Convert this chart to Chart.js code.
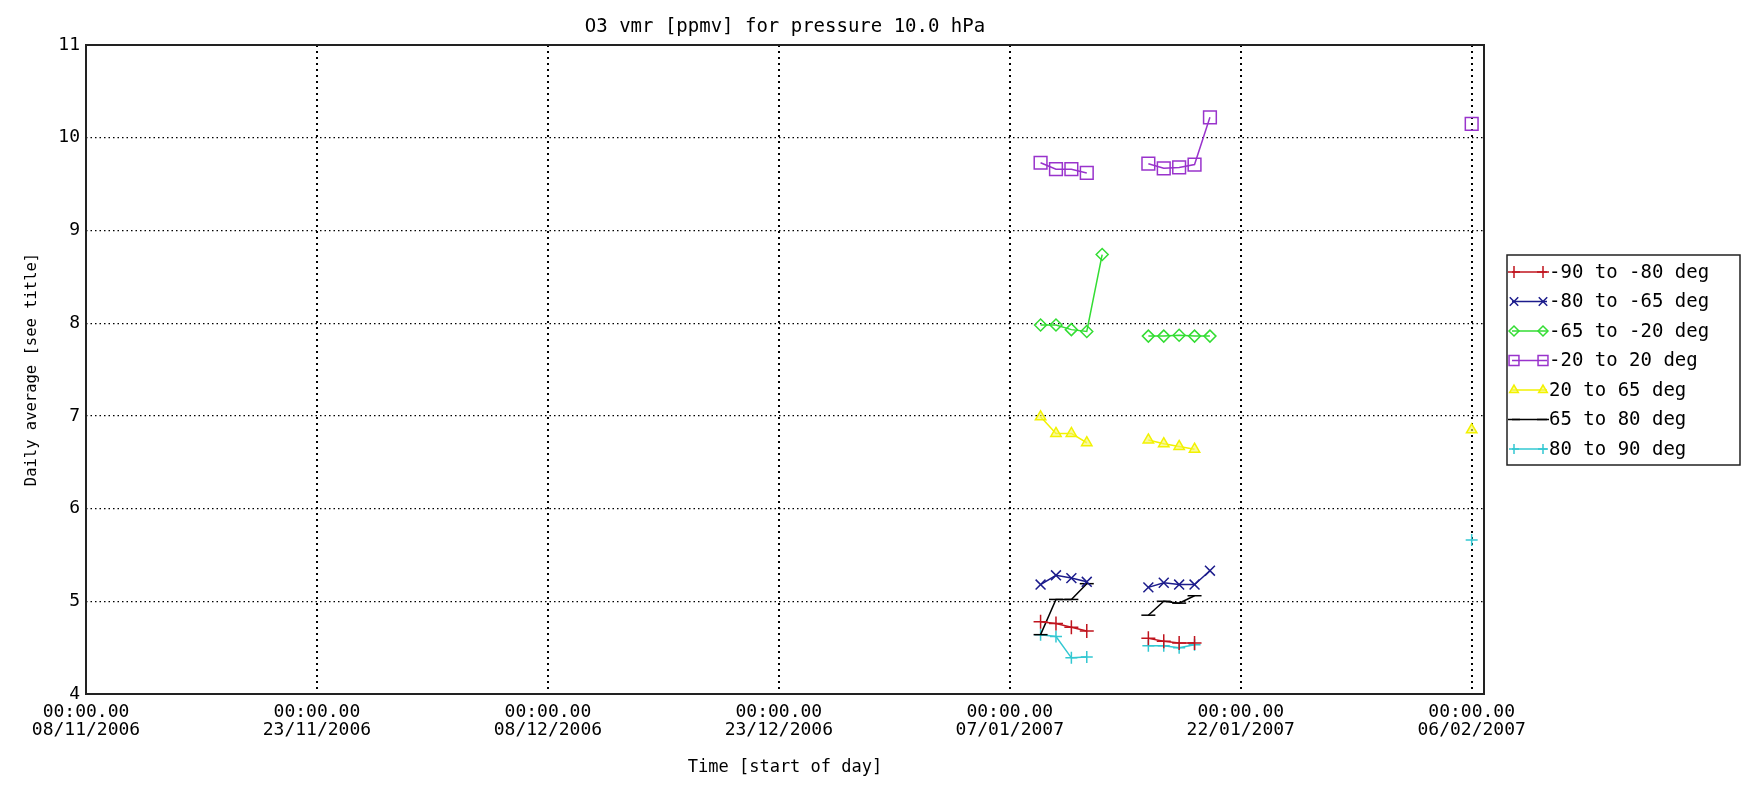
<!DOCTYPE html>
<html>
<head>
<meta charset="utf-8">
<script src="https://cdn.jsdelivr.net/npm/chart.js@4"></script>
<style>
  html, body { margin: 0; padding: 0; background: #fff; }
  #wrap { width: 1746px; height: 787px; position: relative; }
</style>
</head>
<body>
<div id="wrap"><canvas id="c" width="1746" height="787"></canvas></div>
<script>
// days since 08/11/2006 00:00; null rows break the line between observation runs
const days = [62, 63, 64, 65, 66, 67, 69, 70, 71, 72, 73, 80, 90];

const s90to80  = [4.78, 4.76, 4.72, 4.68, null, null, 4.60, 4.57, 4.55, 4.55, null, null, null];
const s80to65  = [5.18, 5.28, 5.25, 5.21, null, null, 5.15, 5.20, 5.18, 5.18, 5.33, null, null];
const s65to20  = [7.98, 7.98, 7.93, 7.91, 8.74, null, 7.86, 7.86, 7.87, 7.86, 7.86, null, null];
const s20to20  = [9.73, 9.66, 9.66, 9.62, null, null, 9.72, 9.67, 9.68, 9.71, 10.22, null, 10.15];
const n20to65  = [6.99, 6.81, 6.81, 6.71, null, null, 6.74, 6.70, 6.67, 6.64, null, null, 6.85];
const n65to80  = [4.64, 5.02, 5.02, 5.19, null, null, 4.85, 5.00, 4.98, 5.06, null, null, null];
const n80to90  = [4.64, 4.62, 4.39, 4.40, null, null, 4.52, 4.52, 4.50, 4.53, null, null, 5.66];

const seriesLabels = ["-90 to -80 deg", "-80 to -65 deg", "-65 to -20 deg", "-20 to 20 deg",
                      "20 to 65 deg", "65 to 80 deg", "80 to 90 deg"];
const yTicks = [4, 5, 6, 7, 8, 9, 10, 11];
const xTickDays = [0, 15, 30, 45, 60, 75, 90];

const FONT = "DejaVu Sans Mono";
const baseDate = Date.UTC(2006, 10, 8);

function dayLabel(d) {
  const dt = new Date(baseDate + d * 86400000);
  const dd = String(dt.getUTCDate()).padStart(2, "0");
  const mm = String(dt.getUTCMonth() + 1).padStart(2, "0");
  return ["00:00.00", dd + "/" + mm + "/" + dt.getUTCFullYear()];
}

function series(label, values, color, style, radius, fill) {
  return {
    label,
    data: days.map((d, i) => ({ x: d, y: values[i] })),
    borderColor: color,
    backgroundColor: color,
    pointBorderColor: color,
    pointBackgroundColor: fill || "rgba(0,0,0,0)",
    borderWidth: 1.5,
    pointStyle: style,
    pointRadius: radius,
    pointBorderWidth: 1.5,
    spanGaps: false,
    tension: 0
  };
}

const datasets = [
  series(seriesLabels[0], s90to80, "#c0141e", "cross", 7),
  series(seriesLabels[1], s80to65, "#1c1c8c", "crossRot", 7),
  series(seriesLabels[2], s65to20, "#33dd33", "rectRot", 6),
  series(seriesLabels[3], s20to20, "#9933cc", "rect", 9),
  series(seriesLabels[4], n20to65, "#f2f200", "triangle", 6, "rgba(245,245,90,0.6)"),
  series(seriesLabels[5], n65to80, "#000000", "line", 7),
  series(seriesLabels[6], n80to90, "#33c8d2", "cross", 6)
];

const frame = {
  id: "frame",
  afterDatasetsDraw(chart) {
    const { ctx, chartArea: a } = chart;
    ctx.save();
    ctx.strokeStyle = "#222";
    ctx.lineWidth = 2;
    ctx.strokeRect(a.left, a.top, a.right - a.left, a.bottom - a.top);

    ctx.fillStyle = "#000";
    ctx.font = "19px '" + FONT + "'";
    ctx.textAlign = "center";
    ctx.textBaseline = "middle";
    ctx.fillText("O3 vmr [ppmv] for pressure 10.0 hPa", (a.left + a.right) / 2, 27);
    ctx.font = "17px '" + FONT + "'";
    ctx.fillText("Time [start of day]", (a.left + a.right) / 2, 768);

    ctx.save();
    ctx.translate(32, (a.top + a.bottom) / 2);
    ctx.rotate(-Math.PI / 2);
    ctx.font = "15.5px '" + FONT + "'";
    ctx.fillText("Daily average [see title]", 0, 0);
    ctx.restore();

    // legend box
    const bx = 1507, by = 255, bw = 233, bh = 210;
    ctx.lineWidth = 1.5;
    ctx.strokeStyle = "#222";
    ctx.strokeRect(bx, by, bw, bh);
    ctx.font = "19px '" + FONT + "'";
    ctx.textAlign = "left";
    chart.data.datasets.forEach((ds, i) => {
      const y = 272 + i * 29.5;
      ctx.strokeStyle = ds.borderColor;
      ctx.lineWidth = 1.5;
      ctx.beginPath();
      ctx.moveTo(bx + 5, y);
      ctx.lineTo(bx + 40, y);
      ctx.stroke();
      [bx + 7, bx + 36].forEach(px => {
        ctx.strokeStyle = ds.borderColor;
        ctx.fillStyle = ds.pointBackgroundColor;
        Chart.helpers.drawPoint(ctx, {
          pointStyle: ds.pointStyle, radius: Math.min(ds.pointRadius - 1, 7),
          rotation: 0, borderWidth: 1.5
        }, px, y);
      });
      ctx.fillStyle = "#000";
      ctx.fillText(ds.label, bx + 42, y + 1);
    });
    ctx.restore();
  }
};

new Chart(document.getElementById("c"), {
  type: "line",
  data: { datasets },
  options: {
    responsive: false,
    animation: false,
    layout: { padding: { top: 45, right: 262, bottom: 0, left: 0 } },
    plugins: { legend: { display: false }, title: { display: false }, tooltip: { enabled: false } },
    scales: {
      x: {
        type: "linear",
        min: 0,
        max: 90.8,
        afterFit: s => { s.height = 93; },
        afterBuildTicks: s => { s.ticks = xTickDays.map(v => ({ value: v })); },
        grid: { color: "#000", lineWidth: 2, drawTicks: false },
        border: { display: false, dash: [2, 4] },
        ticks: {
          color: "#000",
          padding: 9,
          maxRotation: 0,
          autoSkip: false,
          font: { family: FONT, size: 18, lineHeight: 1.0 },
          callback: v => dayLabel(v)
        }
      },
      y: {
        min: 4,
        max: 11,
        afterFit: s => { s.width = 86; },
        afterBuildTicks: s => { s.ticks = yTicks.map(v => ({ value: v })); },
        grid: { color: "#000", lineWidth: 1.2, drawTicks: false },
        border: { display: false, dash: [1.5, 3] },
        ticks: {
          color: "#000",
          padding: 6,
          font: { family: FONT, size: 18 },
          callback: v => String(v)
        }
      }
    }
  },
  plugins: [frame]
});
</script>
</body>
</html>
